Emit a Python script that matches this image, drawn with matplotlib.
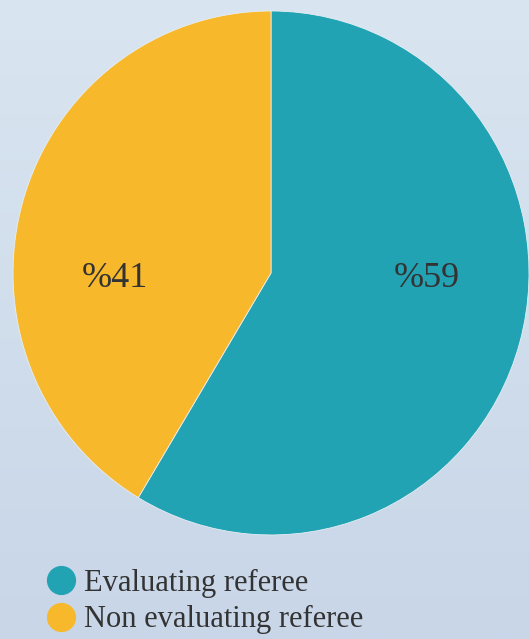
import numpy as np
import matplotlib
matplotlib.use('Agg')
import matplotlib.pyplot as plt
from matplotlib.lines import Line2D

# ---------- Data ----------
labels = ['Evaluating referee', 'Non evaluating referee']
shares = [58.6, 41.4]
colors = ['#22a3b4', '#f7b92b']
pct_text = ['%59', '%41']

FONT = ['Liberation Serif', 'DejaVu Serif']

fig = plt.figure(figsize=(5.29, 6.39), dpi=100)

# Soft vertical gradient background
bg = fig.add_axes([0, 0, 1, 1], zorder=0)
grad = np.linspace(0, 1, 256).reshape(-1, 1)
top = np.array([0xd9, 0xe5, 0xf0]) / 255
bot = np.array([0xc8, 0xd6, 0xe8]) / 255
img = top + (bot - top) * grad[:, :, None]
bg.imshow(img, aspect='auto', extent=[0, 1, 0, 1])
bg.axis('off')

# Pie (slightly taller than wide, like the original)
ax = fig.add_axes([0.0246, 0.1628, 0.9754, 0.820], zorder=1)
ax.pie(shares, colors=colors, startangle=90, counterclock=False,
       wedgeprops=dict(edgecolor='#e8eef4', linewidth=0.6))
ax.set_xlim(-1, 1)
ax.set_ylim(-1, 1)
ax.set_aspect('auto')
ax.patch.set_alpha(0)

# Percentage labels
ax.text(0.605, -0.02, pct_text[0], ha='center', va='center',
        fontsize=26, color='#333333', family=FONT)
ax.text(-0.605, -0.02, pct_text[1], ha='center', va='center',
        fontsize=26, color='#333333', family=FONT)

# Legend
handles = [Line2D([0], [0], marker='o', color='none', markerfacecolor=c,
                  markeredgecolor=c, markersize=20, label=l)
           for c, l in zip(colors, labels)]
fig.legend(handles=handles, loc='center left', bbox_to_anchor=(0.0893, 0.0587),
           frameon=False, handletextpad=0.3, handlelength=0.9,
           labelspacing=0.26, borderaxespad=0, borderpad=0,
           prop=dict(family=FONT, size=22), labelcolor='#333333')

plt.savefig('out.png', dpi=100)
plt.close()
